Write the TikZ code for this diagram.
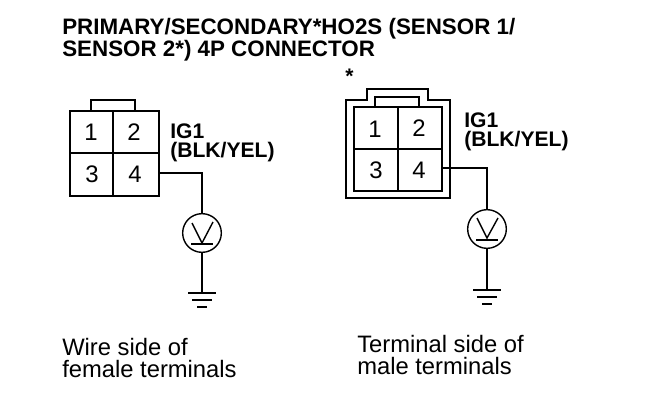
\documentclass[tikz,border=0pt]{standalone}
\usepackage{fontspec}
\setmainfont{Liberation Sans}
\usetikzlibrary{calc}

\tikzset{
	heavy/.style={line width=1.9pt, black},
	wire/.style={line width=1pt, black},
	meter/.style={draw, circle, line width=1pt, minimum size=27.5pt, inner sep=0pt},
	pinlabel/.style={font=\fontsize{17}{17}\selectfont, inner sep=0pt},
	colourlabel/.style={font=\fontsize{15}{14.2}\selectfont\bfseries, align=left, anchor=north west, inner sep=0pt},
	caption/.style={font=\fontsize{16.9}{15.5}\selectfont, align=left, anchor=north west, inner sep=0pt},
}

\begin{document}
\begin{tikzpicture}[x=0.025cm, y=-0.025cm]

	\useasboundingbox (0,0) rectangle (672,414);

	% heading
	\node[colourlabel, font=\fontsize{15.9}{13.8}\selectfont\bfseries] (heading) at (62,18) {PRIMARY/SECONDARY*HO2S (SENSOR 1/\\SENSOR 2*) 4P CONNECTOR};

	% left connector corner placement
	\coordinate (lNW) at (70,111);
	\coordinate (lSE) at (159,196);
	\coordinate (lMid) at (113,153);
	% left connector body
	\draw[heavy] (91,111) -- (91,100) -- (135,100) -- (135,111);
	\draw[heavy] (lNW) rectangle (lSE);
	\draw[wire] (lMid |- lNW) -- (lMid |- lSE);
	\draw[wire] (lMid -| lNW) -- (lMid -| lSE);
	% left terminal numbers
	\node[pinlabel] (lpin1) at (91,132) {1};
	\node[pinlabel] (lpin2) at (134,132) {2};
	\node[pinlabel] (lpin3) at (92,174) {3};
	\node[pinlabel] (lpin4) at (135,174) {4};
	\node[colourlabel] (lcolour) at (170,123) {IG1\\(BLK/YEL)};

	% left meter and ground
	\coordinate (lPin) at (159,173);
	\node[meter] (lmeter) at (202,233) {};
	\coordinate (lGnd) at (202,293);
	\draw[wire] (lPin) -| (lmeter.north);
	\draw[wire] (lmeter.south) -- (lGnd);
	\draw[wire] (192,223) -- (202,243) -- (213,222);
	\draw[heavy] (191,244) -- (213,244);
	\draw[wire] ($(lGnd)+(-14,0)$) -- ($(lGnd)+(14,0)$);
	\draw[wire] ($(lGnd)+(-10,7)$) -- ($(lGnd)+(10,7)$);
	\draw[heavy] ($(lGnd)+(-5,14)$) -- ($(lGnd)+(5,14)$);

	% star above the right connector
	\node[colourlabel, font=\fontsize{15}{15}\selectfont\bfseries] (star) at (345,69) {*};

	% right connector corner placement
	\coordinate (rNW) at (354,107);
	\coordinate (rSE) at (442,191);
	\coordinate (rMid) at (398,149);
	% right connector housing
	\draw[heavy] (367,100) -- (346,100) -- (346,198) -- (450,198) -- (450,100) -- (428,100) -- (428,89) -- (367,89) -- cycle;
	\draw[wire] (375,107) -- (375,97) -- (419,97) -- (419,107);
	\draw[wire] (rNW) rectangle (rSE);
	\draw[wire] (rMid |- rNW) -- (rMid |- rSE);
	\draw[wire] (rMid -| rNW) -- (rMid -| rSE);
	% right terminal numbers
	\node[pinlabel] (rpin1) at (375,129) {1};
	\node[pinlabel] (rpin2) at (419,128) {2};
	\node[pinlabel] (rpin3) at (376,170) {3};
	\node[pinlabel] (rpin4) at (419,170) {4};
	\node[colourlabel] (rcolour) at (464,112) {IG1\\(BLK/YEL)};

	% right meter and ground
	\coordinate (rPin) at (442,168);
	\node[meter] (rmeter) at (487,229) {};
	\coordinate (rGnd) at (487,290);
	\draw[wire] (rPin) -| (rmeter.north);
	\draw[wire] (rmeter.south) -- (rGnd);
	\draw[wire] (477,218) -- (487,238) -- (498,218);
	\draw[heavy] (476,240) -- (498,240);
	\draw[wire] ($(rGnd)+(-14,0)$) -- ($(rGnd)+(14,0)$);
	\draw[wire] ($(rGnd)+(-10,7)$) -- ($(rGnd)+(10,7)$);
	\draw[heavy] ($(rGnd)+(-5,14)$) -- ($(rGnd)+(5,14)$);

	% captions
	\node[caption] (lcaption) at (62,338) {Wire side of\\female terminals};
	\node[caption] (rcaption) at (357,335) {Terminal side of\\male terminals};

\end{tikzpicture}
\end{document}
